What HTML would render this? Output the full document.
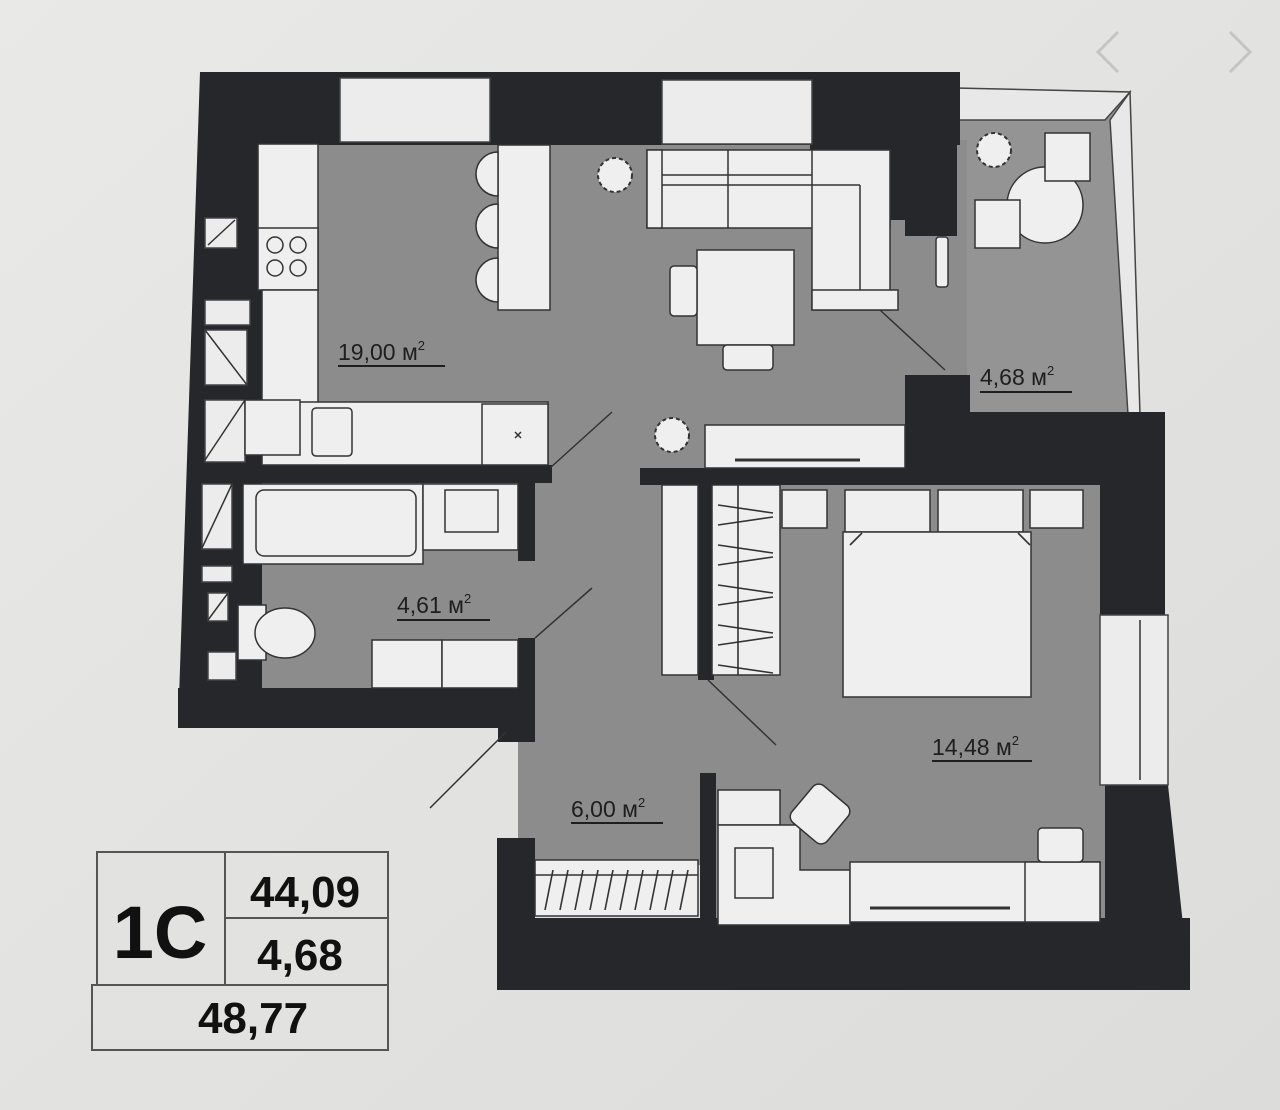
<!DOCTYPE html>
<html><head><meta charset="utf-8"><style>
html,body{margin:0;padding:0;background:#e6e6e4;}
svg{display:block}
text{font-family:"Liberation Sans",sans-serif;}
</style></head><body>
<svg width="1280" height="1110" viewBox="0 0 1280 1110" xmlns="http://www.w3.org/2000/svg">
<defs>
<linearGradient id="bg" x1="0" y1="0" x2="1" y2="1">
<stop offset="0" stop-color="#e9e9e7"/><stop offset="1" stop-color="#dcdcda"/></linearGradient>
</defs>
<rect width="1280" height="1110" fill="url(#bg)"/>
<polyline points="1118,32 1098,52 1118,72" fill="none" stroke="#c4c4c4" stroke-width="3"/>
<polyline points="1230,32 1250,52 1230,72" fill="none" stroke="#c4c4c4" stroke-width="3"/>

<!-- balcony -->
<polygon points="955,88 1130,92 1140,415 960,412" fill="#949494"/>
<!-- floors -->
<g fill="#8c8c8c">
<rect x="255" y="140" width="712" height="330"/>
<rect x="518" y="465" width="187" height="400"/>
<rect x="235" y="480" width="290" height="210"/>
<rect x="705" y="480" width="400" height="440"/>
</g>
<polygon points="955,88 1130,92 1105,120 955,120" fill="#e8e8e8" stroke="#444" stroke-width="1.5"/>
<polygon points="1130,92 1140,415 1128,415 1110,120" fill="#e8e8e8" stroke="#444" stroke-width="1.5"/>

<!-- walls -->
<g fill="#25272b">
<rect x="200" y="72" width="760" height="73"/>
<polygon points="200,72 262,72 262,728 178,728"/>
<rect x="178" y="688" width="357" height="40"/>
<rect x="810" y="86" width="147" height="120"/>
<polygon points="890,140 957,140 957,236 905,236 905,220 890,220"/>
<polygon points="905,375 970,375 970,412 1100,412 1100,485 640,485 640,468 905,468"/>
<rect x="262" y="465" width="290" height="18"/>
<rect x="518" y="483" width="17" height="78"/>
<rect x="518" y="638" width="17" height="90"/>
<rect x="498" y="722" width="37" height="20"/>
<rect x="698" y="485" width="16" height="195"/>
<rect x="700" y="773" width="16" height="145"/>
<rect x="497" y="838" width="38" height="152"/>
<rect x="497" y="918" width="693" height="72"/>
<polygon points="1100,412 1165,412 1165,615 1100,615"/>
<polygon points="1105,785 1168,785 1190,990 1105,990"/>
</g>
<!-- windows -->
<g fill="#ececec" stroke="#444" stroke-width="1.5">
<rect x="340" y="78" width="150" height="64"/>
<rect x="662" y="80" width="150" height="64"/>
<rect x="1100" y="615" width="68" height="170"/>
<rect x="205" y="218" width="32" height="30"/>
<rect x="205" y="300" width="45" height="25"/>
<rect x="205" y="330" width="42" height="55"/>
<rect x="205" y="400" width="40" height="62"/>
<rect x="202" y="484" width="30" height="65"/>
<rect x="202" y="566" width="30" height="16"/>
<rect x="208" y="593" width="20" height="28"/>
<rect x="208" y="652" width="28" height="28"/>
</g>
<g stroke="#333" stroke-width="1.5">
<line x1="208" y1="245" x2="235" y2="220"/>
<line x1="205" y1="330" x2="247" y2="385"/>
<line x1="205" y1="460" x2="245" y2="400"/>
<line x1="202" y1="548" x2="232" y2="484"/>
<line x1="208" y1="620" x2="228" y2="593"/>
<line x1="1140" y1="620" x2="1140" y2="780"/>
</g>

<g fill="#efefef" stroke="#333" stroke-width="1.5">
<rect x="258" y="144" width="60" height="146"/>
<rect x="258" y="228" width="60" height="62"/>
<rect x="262" y="290" width="56" height="115"/>
<rect x="262" y="402" width="286" height="63"/>
<rect x="482" y="404" width="66" height="61"/>
<rect x="245" y="400" width="55" height="55"/>
<rect x="312" y="408" width="40" height="48" rx="4"/>
<rect x="498" y="145" width="52" height="165"/>
<path d="M498,152 a22,22 0 0 0 0,44 Z"/>
<path d="M498,204 a22,22 0 0 0 0,44 Z"/>
<path d="M498,258 a22,22 0 0 0 0,44 Z"/>
<rect x="647" y="150" width="243" height="78"/>
<rect x="812" y="150" width="78" height="160"/>
<rect x="812" y="290" width="86" height="20"/>
<rect x="647" y="150" width="15" height="78"/>
<rect x="697" y="250" width="97" height="95"/>
<rect x="670" y="266" width="27" height="50" rx="4"/>
<rect x="723" y="345" width="50" height="25" rx="4"/>
<rect x="705" y="425" width="200" height="43"/>
<circle cx="1045" cy="205" r="38"/>
<rect x="1045" y="133" width="45" height="48"/>
<rect x="975" y="200" width="45" height="48"/>
<rect x="936" y="237" width="12" height="50" rx="3"/>
</g>
<g fill="none" stroke="#333" stroke-width="1.5">
<circle cx="275" cy="245" r="8"/><circle cx="298" cy="245" r="8"/>
<circle cx="275" cy="268" r="8"/><circle cx="298" cy="268" r="8"/>
<line x1="662" y1="175" x2="812" y2="175"/><line x1="662" y1="185" x2="860" y2="185"/>
<line x1="728" y1="150" x2="728" y2="228"/><line x1="860" y1="185" x2="860" y2="290"/>
<line x1="735" y1="460" x2="860" y2="460" stroke-width="3"/>
<line x1="515" y1="432" x2="521" y2="438"/><line x1="521" y1="432" x2="515" y2="438"/>
<line x1="880" y1="310" x2="945" y2="370"/>
<line x1="550" y1="468" x2="612" y2="412"/>
<line x1="535" y1="638" x2="592" y2="588"/>
<line x1="506" y1="732" x2="430" y2="808"/>
<line x1="708" y1="680" x2="776" y2="745"/>
</g>
<g fill="#efefef" stroke="#333" stroke-width="2">
<circle cx="615" cy="175" r="17" stroke-dasharray="4 3"/>
<circle cx="672" cy="435" r="17" stroke-dasharray="4 3"/>
<circle cx="994" cy="150" r="17" stroke-dasharray="4 3"/>
</g>

<g fill="#efefef" stroke="#333" stroke-width="1.5">
<rect x="243" y="484" width="180" height="80"/>
<rect x="256" y="490" width="160" height="66" rx="8"/>
<rect x="423" y="484" width="95" height="66"/>
<rect x="445" y="490" width="53" height="42"/>
<rect x="238" y="605" width="28" height="55"/>
<ellipse cx="285" cy="633" rx="30" ry="25"/>
<rect x="372" y="640" width="70" height="48"/>
<rect x="442" y="640" width="76" height="48"/>
</g>

<g fill="#efefef" stroke="#333" stroke-width="1.5">
<rect x="662" y="485" width="36" height="190"/>
<rect x="712" y="485" width="68" height="190"/>
<rect x="782" y="490" width="45" height="38"/>
<rect x="845" y="490" width="85" height="42"/>
<rect x="938" y="490" width="85" height="42"/>
<rect x="1030" y="490" width="53" height="38"/>
<rect x="843" y="532" width="188" height="165"/>
<rect x="718" y="790" width="62" height="35"/>
<path d="M718,825 H800 V870 H850 V925 H718 Z"/>
<rect x="850" y="862" width="250" height="60"/>
<rect x="1025" y="862" width="75" height="60"/>
<rect x="1038" y="828" width="45" height="34" rx="4"/>
<rect x="535" y="860" width="163" height="56"/>
<rect x="735" y="848" width="38" height="50"/>
<rect x="797" y="790" width="46" height="48" rx="8" transform="rotate(40 820 814)"/>
</g>
<g stroke="#333" stroke-width="1.6" fill="none">
<line x1="738" y1="485" x2="738" y2="675"/>
<path d="M718,505 l55,8 M718,525 l55,-8 M718,545 l55,8 M718,565 l55,-8 M718,585 l55,8 M718,605 l55,-8 M718,625 l55,8 M718,645 l55,-8 M718,665 l55,8"/>
<path d="M545,910 l8,-40 M560,910 l8,-40 M575,910 l8,-40 M590,910 l8,-40 M605,910 l8,-40 M620,910 l8,-40 M635,910 l8,-40 M650,910 l8,-40 M665,910 l8,-40 M680,910 l8,-40"/>
<line x1="535" y1="875" x2="698" y2="875"/>
<line x1="870" y1="908" x2="1010" y2="908" stroke-width="3"/>
<path d="M850,545 l12,-12 M1018,533 l12,12"/>
</g>

<g fill="#1e1e1e" font-size="23">
<text x="338" y="360">19,00 м<tspan font-size="13" dy="-10">2</tspan></text>
<line x1="338" y1="366" x2="445" y2="366" stroke="#1e1e1e" stroke-width="2"/>
<text x="980" y="385">4,68 м<tspan font-size="13" dy="-10">2</tspan></text>
<line x1="980" y1="392" x2="1072" y2="392" stroke="#1e1e1e" stroke-width="2"/>
<text x="397" y="613">4,61 м<tspan font-size="13" dy="-10">2</tspan></text>
<line x1="397" y1="620" x2="490" y2="620" stroke="#1e1e1e" stroke-width="2"/>
<text x="932" y="755">14,48 м<tspan font-size="13" dy="-10">2</tspan></text>
<line x1="932" y1="761" x2="1032" y2="761" stroke="#1e1e1e" stroke-width="2"/>
<text x="571" y="817">6,00 м<tspan font-size="13" dy="-10">2</tspan></text>
<line x1="571" y1="823" x2="663" y2="823" stroke="#1e1e1e" stroke-width="2"/>
</g>

<g fill="#e2e2e0" stroke="#555" stroke-width="2">
<rect x="97" y="852" width="128" height="133"/>
<rect x="225" y="852" width="163" height="66"/>
<rect x="225" y="918" width="163" height="67"/>
<rect x="92" y="985" width="296" height="65"/>
</g>
<g fill="#111" font-weight="bold">
<text x="160" y="958" font-size="74" text-anchor="middle">1C</text>
<text x="305" y="907" font-size="44" text-anchor="middle">44,09</text>
<text x="300" y="970" font-size="44" text-anchor="middle">4,68</text>
<text x="253" y="1033" font-size="44" text-anchor="middle">48,77</text>
</g>
</svg>
</body></html>
